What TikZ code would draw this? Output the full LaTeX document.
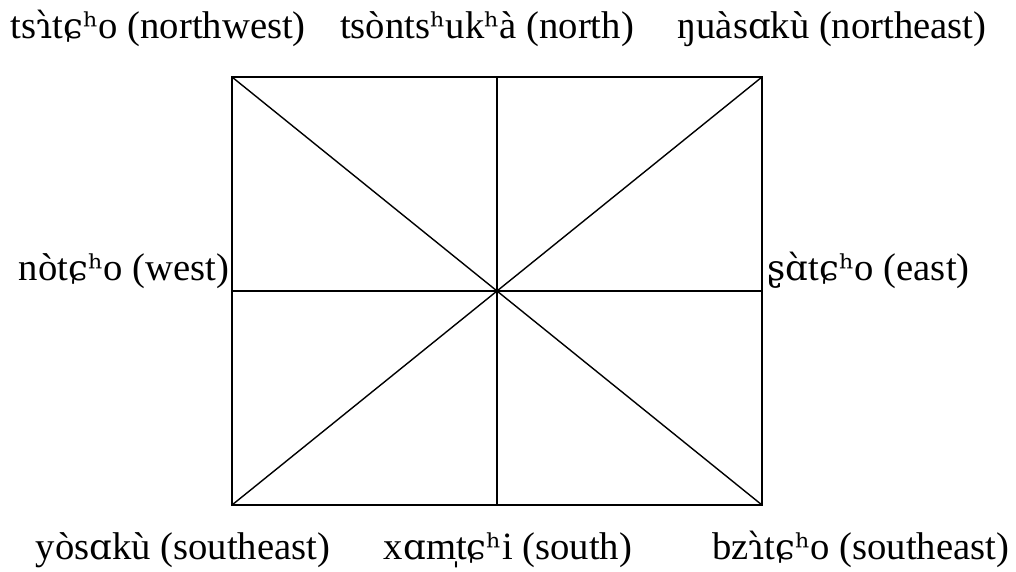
\documentclass[tikz,border=0pt]{standalone}
\usepackage{fontspec}
\setmainfont{Liberation Serif}
\newfontfamily\ipafont[Scale=0.92]{DejaVu Serif}
\newcommand{\ipa}[1]{{\ipafont #1}}
\begin{document}
\begin{tikzpicture}[line width=0.8pt]
\tikzset{dirlabel/.style={inner sep=0pt, font=\fontsize{22}{26}\selectfont}}
\useasboundingbox (0,0) rectangle (20.32,11.42);

\coordinate (tl) at (4.64,9.88);
\coordinate (tm) at (9.94,9.88);
\coordinate (tr) at (15.24,9.88);
\coordinate (ml) at (4.64,5.6);
\coordinate (mr) at (15.24,5.6);
\coordinate (bl) at (4.64,1.32);
\coordinate (bm) at (9.94,1.32);
\coordinate (br) at (15.24,1.32);

\node[dirlabel, anchor=base west] (nw) at (0.2,10.64) {ts\ipa{ɿ̀}t\ipa{ɕʰ}o (northwest)};
\node[dirlabel, anchor=base] (n) at (9.74,10.64) {tsònts\ipa{ʰ}uk\ipa{ʰ}à (north)};
\node[dirlabel, anchor=base] (ne) at (16.64,10.64) {ŋuàs\ipa{ɑ}kù (northeast)};
\node[dirlabel, anchor=base east] (w) at (4.6,5.82) {nòt\ipa{ɕʰ}o (west)};
\node[dirlabel, anchor=base west] (e) at (15.34,5.82) {\ipa{ʂɑ̀}t\ipa{ɕʰ}o (east)};
\node[dirlabel, anchor=base] (sw) at (3.66,0.24) {yòs\ipa{ɑ}kù (southeast)};
\node[dirlabel, anchor=base] (s) at (10.16,0.24) {x\ipa{ɑ}m̩t\ipa{ɕʰ}i (south)};
\node[dirlabel, anchor=base east] (se) at (20.2,0.24) {bz\ipa{ɿ̀}t\ipa{ɕʰ}o (southeast)};

\draw (tl) rectangle (br);
\draw (tm) -- (bm);
\draw (ml) -- (mr);
\draw (tl) -- (br);
\draw (bl) -- (tr);
\end{tikzpicture}
\end{document}
